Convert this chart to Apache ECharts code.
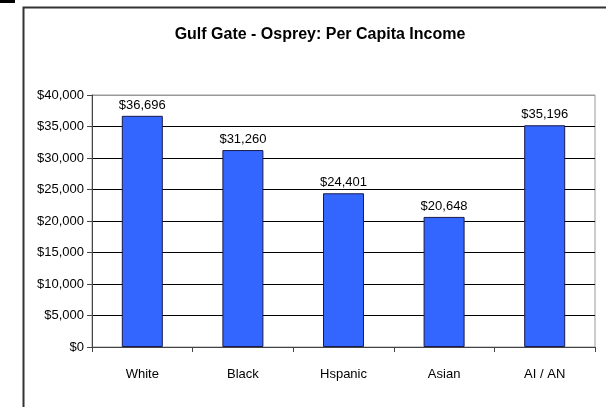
<!DOCTYPE html>
<html><head><meta charset="utf-8">
<script src="https://cdn.jsdelivr.net/npm/echarts@6/dist/echarts.min.js"></script>
<style>html,body{margin:0;padding:0;background:#fff}#c{width:606px;height:407px}</style>
</head><body><div id="c"></div>
<script>
var categories = ['White', 'Black', 'Hspanic', 'Asian', 'AI / AN'];
var incomeValues = [36696, 31260, 24401, 20648, 35196];
var yTicks = [0, 5000, 10000, 15000, 20000, 25000, 30000, 35000, 40000];
var titleText = 'Gulf Gate - Osprey: Per Capita Income';

function money(v){ return '$' + String(v).replace(/\B(?=(\d{3})+(?!\d))/g, ','); }

var chart = echarts.init(document.getElementById('c'), null, {renderer:'canvas'});
var font = 'Liberation Sans, Arial, sans-serif';
chart.setOption({
  animation:false,
  backgroundColor:'#fff',
  title:{text:titleText,left:315,top:22,textAlign:'center',
    textStyle:{fontFamily:font,fontSize:16,fontWeight:'bold',color:'#000'}},
  graphic:[
    {type:'rect',left:0,top:0,shape:{width:15,height:3},style:{fill:'#000'}},
    {type:'rect',left:21,top:5,shape:{width:620,height:440},style:{fill:'none',stroke:'#333',lineWidth:2}}
  ],
  grid:{left:92,top:95,right:11,bottom:60,show:true,borderColor:'#999',borderWidth:1,backgroundColor:'transparent'},
  xAxis:{type:'category',data:categories,
    axisLine:{lineStyle:{color:'#444',width:1}},
    axisTick:{show:true,length:5,lineStyle:{color:'#444'}},
    axisLabel:{fontFamily:font,fontSize:13,color:'#000',margin:21}},
  yAxis:{type:'value',min:yTicks[0],max:yTicks[yTicks.length-1],interval:yTicks[1]-yTicks[0],
    axisLine:{show:true,lineStyle:{color:'#444'}},
    axisTick:{show:true,inside:false,length:5,lineStyle:{color:'#444'}},
    axisLabel:{fontFamily:font,fontSize:13,color:'#000',margin:8,formatter:money},
    splitLine:{show:true,lineStyle:{color:['#000','#000','#000','#000','#000','#000','#000','#000','#999'],width:1}}},
  series:[{type:'bar',data:incomeValues,barWidth:41,
    itemStyle:{color:'#3366FF',borderColor:'#1a1a4d',borderWidth:1},
    label:{show:true,position:'top',distance:4,fontFamily:font,fontSize:13,color:'#000',
      formatter:function(p){return money(p.value);}}}]
});
</script></body></html>
